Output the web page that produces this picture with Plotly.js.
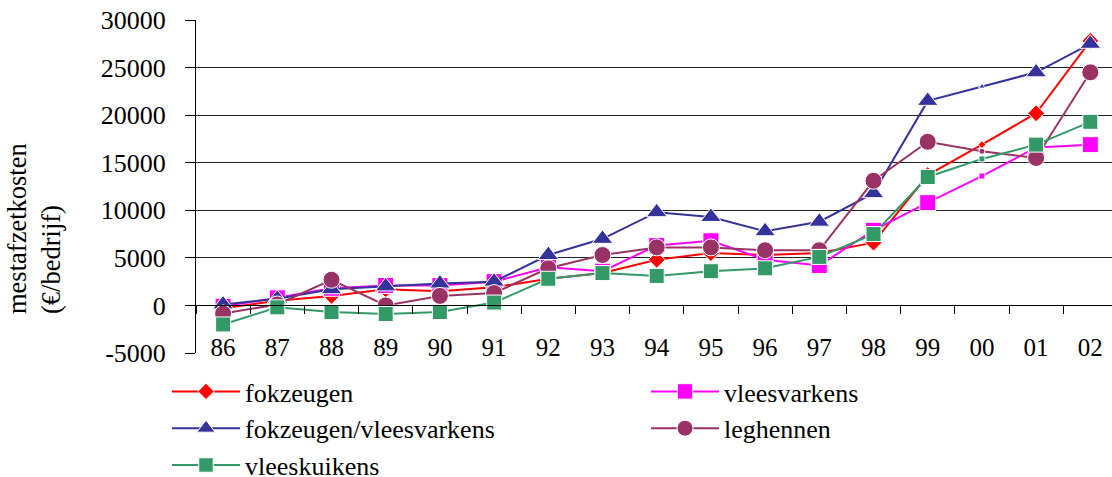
<!DOCTYPE html>
<html>
<head>
<meta charset="utf-8">
<script src="https://cdn.plot.ly/plotly-3.0.1.min.js"></script>
<style>html,body{margin:0;padding:0;background:#fff;}#chart{width:1112px;height:477px;}</style>
</head>
<body>
<div id="chart"></div>
<script>
var years = ['86','87','88','89','90','91','92','93','94','95','96','97','98','99','00','01','02'];
var yTickVals = [-5000, 0, 5000, 10000, 15000, 20000, 25000, 30000];
var yTickText = ['-5000', '0', '5000', '10000', '15000', '20000', '25000', '30000'];

var fokzeugen        = [-300, 500, 1000, 1700, 1500, 1900, 2800, 3400, 4800, 5500, 5300, 5500, 6600, 13700, 16900, 20200, 27800];
var vleesvarkens     = [-100, 800, 1800, 2100, 2100, 2500, 4000, 3600, 6300, 6800, 4800, 4200, 7900, 10800, 13600, 16600, 16900];
var fokzeugenVlees   = [100, 700, 1700, 2000, 2300, 2500, 5300, 7000, 9800, 9300, 7800, 8800, 11800, 21500, 23000, 24500, 27500];
var leghennen        = [-850, 100, 2700, 0, 1000, 1300, 3900, 5300, 6100, 6100, 5800, 5800, 13100, 17200, 16200, 15500, 24500];
var vleeskuikens     = [-2000, -200, -700, -900, -700, 300, 2800, 3400, 3100, 3600, 3900, 5100, 7500, 13500, 15400, 16900, 19300];

var seriesNames = ['fokzeugen','vleesvarkens','fokzeugen/vleesvarkens','leghennen','vleeskuikens'];
var seriesData = [fokzeugen, vleesvarkens, fokzeugenVlees, leghennen, vleeskuikens];
var colors = ['#FF0000','#FF00FF','#333399','#993366','#339966'];
var symbols = ['diamond','square','triangle-up','circle','square'];
var baseSizes = [13, 16, 18, 17, 15];
var legendIds = ['legend','legend2','legend','legend2','legend'];

var traces = seriesData.map(function(vals, i){
  return {
    type: 'scatter',
    mode: 'lines+markers',
    name: seriesNames[i],
    legend: legendIds[i],
    x: years,
    y: vals,
    line: {color: colors[i], width: 2},
    marker: {
      color: colors[i],
      symbol: symbols[i],
      opacity: 1,
      size: years.map(function(y){ return y === '00' ? 6 : baseSizes[i]; })
    },
    hoverinfo: 'skip'
  };
});

function mkFont(s){ return {family: 'Liberation Serif', size: s || 24, color: '#000'}; }
function mkLegend(xpx){
  return {
    orientation: 'v',
    xref: 'container', yref: 'container',
    x: xpx/1112, y: 1 - 368/477,
    xanchor: 'left', yanchor: 'top',
    itemwidth: 68,
    font: mkFont(26),
    bgcolor: 'rgba(0,0,0,0)',
    tracegroupgap: 0
  };
}

var layout = {
  width: 1112, height: 477,
  margin: {l: 196, r: 0, t: 20, b: 124, autoexpand: false},
  paper_bgcolor: '#fff', plot_bgcolor: '#fff',
  font: mkFont(),
  showlegend: true,
  xaxis: {
    type: 'category',
    range: [-0.5, 16.4],
    anchor: 'free',
    position: 5000/35000,
    showline: true, linecolor: '#000', linewidth: 1,
    ticks: 'outside', ticklen: 8, tickcolor: '#000', tickwidth: 1,
    tickson: 'boundaries',
    showgrid: false, zeroline: false,
    tickangle: 0,
    ticklabelstandoff: 20,
    tickfont: mkFont(25)
  },
  yaxis: {
    range: [-5000, 30000],
    tickmode: 'array', tickvals: yTickVals, ticktext: yTickText,
    showline: true, linecolor: '#000', linewidth: 1,
    ticks: 'outside', ticklen: 10, tickcolor: '#000',
    showgrid: true, gridcolor: '#222', gridwidth: 1,
    zeroline: false,
    ticklabelstandoff: 14,
    tickfont: mkFont(26)
  },
  legend: mkLegend(167),
  legend2: mkLegend(646),
  annotations: [{
    xref: 'paper', yref: 'paper',
    x: (34-196)/916, y: (353-229)/333,
    xanchor: 'center', yanchor: 'middle',
    textangle: -90, align: 'left',
    showarrow: false,
    text: 'mestafzetkosten<br>(€/bedrijf)',
    font: mkFont(26.5)
  }]
};

Plotly.newPlot('chart', traces, layout, {displayModeBar: false, staticPlot: true});
</script>
</body>
</html>
